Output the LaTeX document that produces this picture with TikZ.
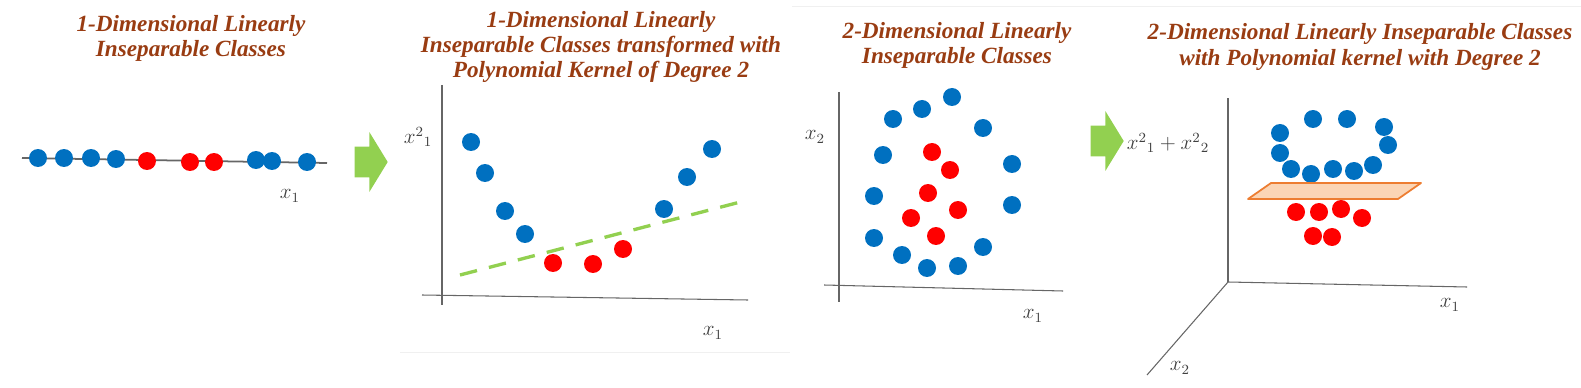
\documentclass[tikz,border=0pt]{standalone}
\usepackage{fontspec}
\setmainfont{Liberation Serif}
\usetikzlibrary{shapes.arrows,positioning}
\definecolor{ttlbrown}{RGB}{153,60,18}
\definecolor{dotblue}{RGB}{0,112,192}
\definecolor{dotred}{RGB}{255,0,0}
\definecolor{kgreen}{RGB}{146,208,80}
\definecolor{planeorange}{RGB}{237,125,49}
\definecolor{planefill}{RGB}{251,213,181}
\tikzset{
  ttl/.style={align=center,text=ttlbrown,font=\fontsize{13.2}{14.3}\selectfont\bfseries\itshape},
  bdot/.style={circle,fill=dotblue,inner sep=0pt,minimum size=0.36cm},
  rdot/.style={circle,fill=dotred,inner sep=0pt,minimum size=0.36cm},
  axisln/.style={line width=0.6pt,gray!80!black},
  axlbl/.style={text=black!75,font=\large},
  sepline/.style={line width=1.9pt,kgreen,dash pattern=on 10pt off 7pt},
  garrow/.style={single arrow,fill=kgreen,inner xsep=0pt,inner ysep=0.3cm,minimum height=0.66cm,
    single arrow head extend=0.29cm,single arrow tip angle=117,single arrow head indent=0pt},
  plane/.style={draw=planeorange,fill=planefill,line width=1pt,line join=round},
  faint/.style={line width=0.5pt,gray!12}
}

\begin{document}
\begin{tikzpicture}[x=0.02cm,y=-0.02cm]
  \useasboundingbox (0,0) rectangle (1581,388);
  % faint slide edges
  \draw[faint] (400,352) -- (790,352);
  \draw[faint] (792,6) -- (1581,6);

  % titles
  \node[ttl] (t1) at (191,38) {1-Dimensional Linearly\\Inseparable Classes};
  \node[ttl] (t2) at (601,47) {1-Dimensional Linearly\\Inseparable Classes transformed with\\Polynomial Kernel of Degree 2};
  \node[ttl] (t3) at (957,45) {2-Dimensional Linearly\\Inseparable Classes};
  \node[ttl] (t4) at (1360,47) {2-Dimensional Linearly Inseparable Classes\\with Polynomial kernel with Degree 2};

  % panel 1: points on a line
  \coordinate (l1s) at (22,158);
  \coordinate (l1e) at (327,163);
  \draw[axisln,line width=1pt] (l1s) -- (l1e);
  \foreach \x/\y [count=\i] in {38/158,64/158,91/158,116/159,256/160,272/161,307/162}
    \node[bdot] (ab\i) at (\x,\y) {};
  \foreach \x/\y [count=\i] in {147/161,190/162,214/162}
    \node[rdot] (ar\i) at (\x,\y) {};
  \node[axlbl] (ax1) at (290,196) {$x_{1}$};

  \node[garrow] (arr1) at (366.5,162) {};

  % panel 2: mapped to x1, x1^2
  \draw[axisln] (442,85) -- (442,305);
  \draw[axisln] (422,295) -- (748,300);
  \node[axlbl] (bx2) at (418,137) {$x^{2}{}_{1}$};
  \node[axlbl] (bx1) at (713,333) {$x_{1}$};
  \coordinate (s2a) at (460,275);
  \coordinate (s2b) at (748,200);
  \draw[sepline] (s2a) -- (s2b);
  \foreach \x/\y [count=\i] in {471/142,485/173,505/211,525/234,664/209,687/177,712/149}
    \node[bdot] (bb\i) at (\x,\y) {};
  \foreach \x/\y [count=\i] in {553/263,593/264,623/249}
    \node[rdot] (br\i) at (\x,\y) {};

  % panel 3: 2-d rings
  \draw[axisln] (839,92) -- (839,302);
  \draw[axisln] (824,285) -- (1063,291);
  \node[axlbl] (cx2) at (815,137) {$x_{2}$};
  \node[axlbl] (cx1) at (1033,316) {$x_{1}$};
  \foreach \x/\y [count=\i] in {893/119,922/109,952/97,983/128,883/155,1012/164,874/196,1012/205,
      874/238,983/247,902/255,927/268,958/266}
    \node[bdot] (cb\i) at (\x,\y) {};
  \foreach \x/\y [count=\i] in {932/152,950/170,928/193,958/210,911/218,936/236}
    \node[rdot] (cr\i) at (\x,\y) {};

  \node[garrow] (arr2) at (1102.5,141) {};

  % panel 4: lifted to 3-d with a plane
  \coordinate (o4) at (1228,282);
  \draw[axisln] (o4) -- (1228,98);
  \draw[axisln] (o4) -- (1467,287);
  \draw[axisln] (o4) -- (1147,375);
  \node[axlbl] (dz) at (1168,143) {$x^{2}{}_{1} + x^{2}{}_{2}$};
  \node[axlbl] (dx1) at (1450,305) {$x_{1}$};
  \node[axlbl] (dx2) at (1180,368) {$x_{2}$};
  \foreach \x/\y [count=\i] in {1280/133,1280/153,1313/119,1347/119,1384/127,1388/145,
      1291/169,1311/174,1333/169,1354/171,1373/165}
    \node[bdot] (db\i) at (\x,\y) {};
  \draw[plane] (1248,199) -- (1398,199) -- (1421,183) -- (1271,183) -- cycle;
  \foreach \x/\y [count=\i] in {1296/212,1319/212,1341/209,1362/218,1313/236,1332/237}
    \node[rdot] (dr\i) at (\x,\y) {};
\end{tikzpicture}
\end{document}
